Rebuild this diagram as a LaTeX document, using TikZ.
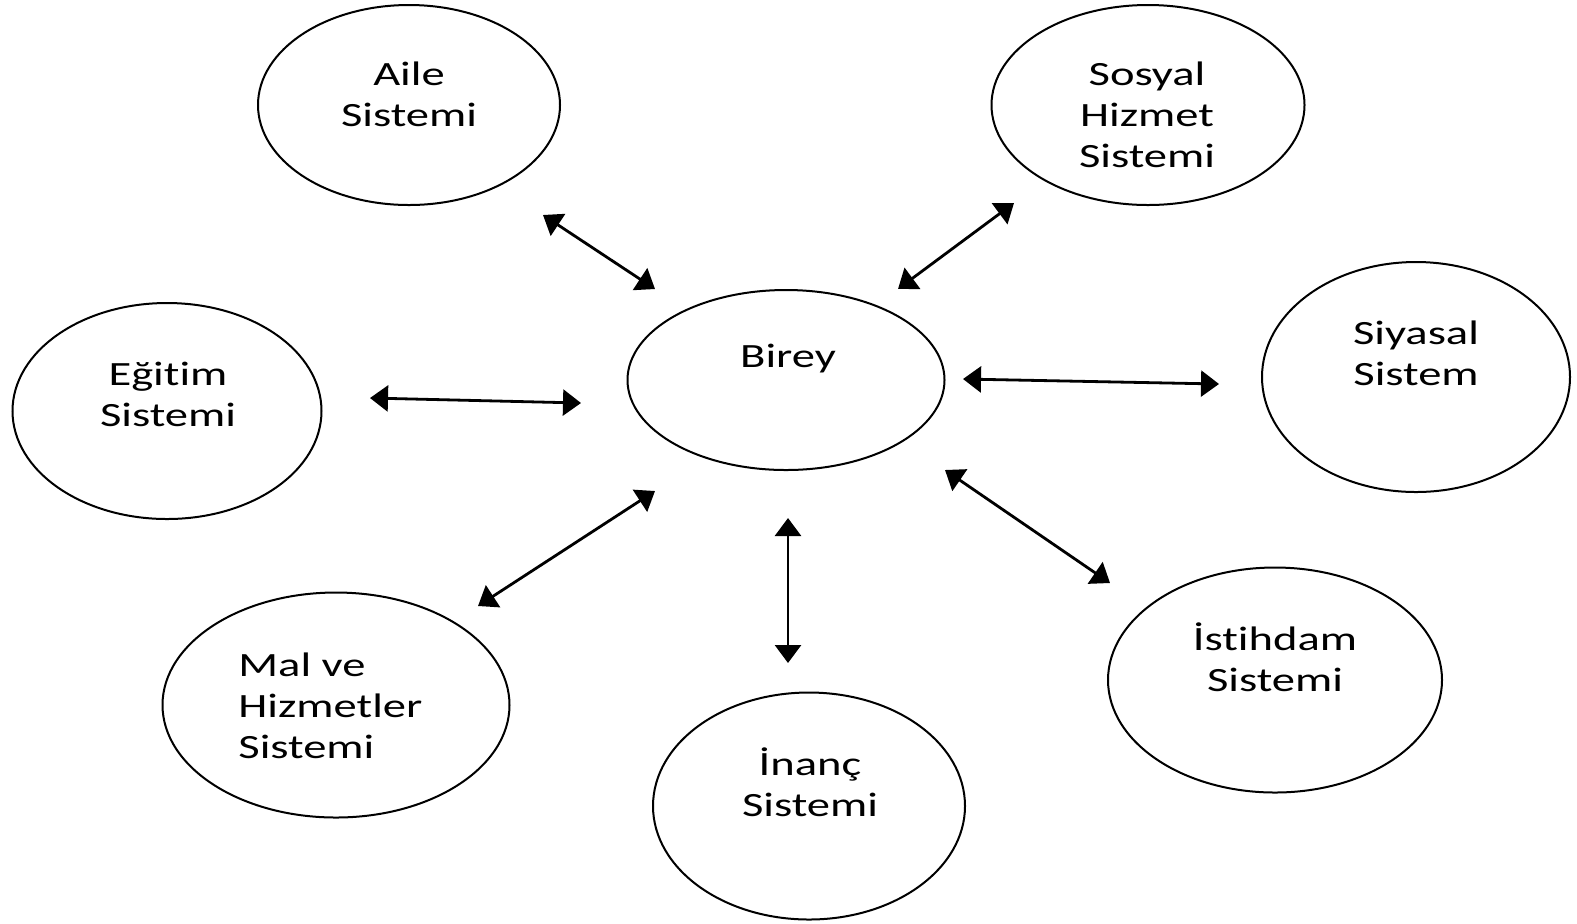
\documentclass[tikz,border=0pt]{standalone}
\usepackage{fontspec}
\setmainfont{Carlito}[Ligatures={NoCommon,NoContextual},FakeStretch=1.37]
\usepackage{tikz}
\usetikzlibrary{shapes.geometric}
\usetikzlibrary{arrows.meta}
\tikzset{sys/.style={ellipse,draw,line width=1pt,inner sep=0pt},
 lbl/.style={font=\fontsize{17}{20.5}\selectfont,align=center,inner sep=0pt,anchor=base},
 biarrow/.style={{Triangle[length=9pt,width=13pt]}-{Triangle[length=9pt,width=13pt]},line width=1.4pt},
 }

\begin{document}
\begin{tikzpicture}[x=0.5pt,y=-0.5pt]
        \useasboundingbox (0,0) rectangle (1577,923);
        % ellipses
        \node[sys,minimum width=151pt,minimum height=100pt] (aile) at (409,105) {};
        \node[sys,minimum width=156.5pt,minimum height=100pt] (sosyal) at (1148,105) {};
        \node[sys,minimum width=158.5pt,minimum height=90pt] (birey) at (786,380) {};
        \node[sys,minimum width=154.5pt,minimum height=108pt] (egitim) at (167,411) {};
        \node[sys,minimum width=154pt,minimum height=115pt] (siyasal) at (1416,377) {};
        \node[sys,minimum width=173.5pt,minimum height=112.5pt] (mal) at (336,705) {};
        \node[sys,minimum width=156pt,minimum height=113.5pt] (inanc) at (809,806) {};
        \node[sys,minimum width=167pt,minimum height=112.5pt] (istihdam) at (1275,680) {};
        % texts (base = last line)
        \node[lbl] (aileText) at (409,126) {Aile\\Sistemi};
        \node[lbl] (sosyalText) at (1147,167) {Sosyal\\Hizmet\\Sistemi};
        \node[lbl] (bireyText) at (788,367) {Birey};
        \node[lbl] (egitimText) at (168,426) {Eğitim\\Sistemi};
        \node[lbl] (siyasalText) at (1416,385) {Siyasal\\Sistem};
        \node[lbl,anchor=base west,align=left] (malText) at (238,758) {Mal ve\\Hizmetler\\Sistemi};
        \node[lbl] (inancText) at (810,816) {İnanç\\Sistemi};
        \node[lbl] (istihdamText) at (1275,691) {İstihdam\\Sistemi};
        % arrow ends
        \coordinate (a1) at (543,215);
        \coordinate (a2) at (655,289);
        \coordinate (b1) at (1014,203);
        \coordinate (b2) at (898,289);
        \coordinate (c1) at (370,398);
        \coordinate (c2) at (581,403);
        \coordinate (d1) at (963,379);
        \coordinate (d2) at (1219,384);
        \coordinate (e1) at (478,606);
        \coordinate (e2) at (655,491);
        \coordinate (f1) at (788,518);
        \coordinate (f2) at (788,663);
        \coordinate (g1) at (945,470);
        \coordinate (g2) at (1110,583);
        \draw[biarrow] (a1) -- (a2);
        \draw[biarrow] (b1) -- (b2);
        \draw[biarrow] (c1) -- (c2);
        \draw[biarrow] (d1) -- (d2);
        \draw[biarrow] (e1) -- (e2);
        \draw[biarrow] (f1) -- (f2);
        \draw[biarrow] (g1) -- (g2);
    \end{tikzpicture}
\end{document}
